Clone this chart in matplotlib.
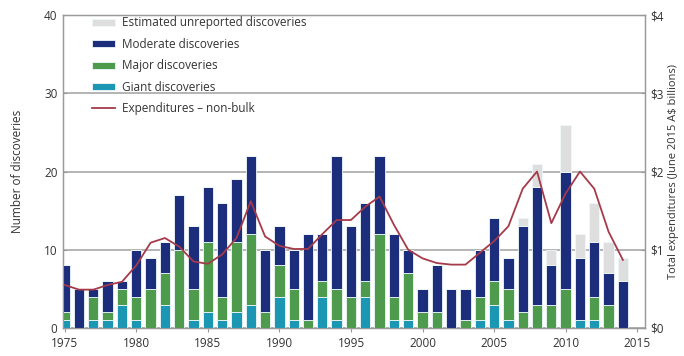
import matplotlib
matplotlib.use("Agg")
import matplotlib.pyplot as plt
import numpy as np

plt.rcParams['font.family'] = ['Open Sans', 'DejaVu Sans']

years = list(range(1975, 2015))

giant = [1, 0, 1, 1, 3, 1, 0, 3, 0, 1, 2, 1, 2, 3,
         0, 4, 1, 0, 4, 1, 0, 4, 0, 1, 1,
         0, 0, 0, 0, 1, 3, 1, 0, 0, 0, 0, 1, 1, 0, 0]
major = [1, 0, 3, 1, 2, 3, 5, 4, 10, 4, 9, 3, 9, 9,
         2, 4, 4, 1, 2, 4, 4, 2, 12, 3, 6,
         2, 2, 0, 1, 3, 3, 4, 2, 3, 3, 5, 0, 3, 3, 0]
moderate = [6, 5, 1, 4, 1, 6, 4, 4, 7, 8, 7, 12, 8, 10,
            8, 5, 5, 11, 6, 17, 9, 10, 10, 8, 3,
            3, 6, 5, 4, 6, 8, 4, 11, 15, 5, 15, 8, 7, 4, 6]
unreported = [0] * 32 + [1, 3, 2, 6, 3, 5, 4, 3]

expenditure = [0.55, 0.49, 0.49, 0.55, 0.59, 0.80, 1.09, 1.15, 1.04, 0.85,
               0.82, 0.94, 1.15, 1.62, 1.17, 1.05, 1.01, 1.01, 1.20, 1.38,
               1.38, 1.55, 1.68, 1.32, 1.00, 0.89, 0.83, 0.81, 0.81, 0.96,
               1.11, 1.30, 1.78, 2.00, 1.34, 1.72, 2.00, 1.78, 1.23, 0.87]

c_giant = "#1c97b3"
c_major = "#4f9b4d"
c_moderate = "#1b2d7b"
c_unrep = "#dedede"
c_line = "#a53a4a"
c_axis = "#9a9a9a"
c_text = "#333333"

fig = plt.figure(figsize=(6.84, 3.56), dpi=100)
ax = fig.add_axes([0.0921, 0.0787, 0.851, 0.879])

x = np.array(years)
g = np.array(giant)
mj = np.array(major)
md = np.array(moderate)
un = np.array(unreported)
w = 0.72
kw = dict(width=w, edgecolor="#eef8fa", linewidth=0.6, zorder=3)
ax.bar(x, g, color=c_giant, label="Giant discoveries", **kw)
ax.bar(x, mj, bottom=g, color=c_major, label="Major discoveries", **kw)
ax.bar(x, md, bottom=g + mj, color=c_moderate, label="Moderate discoveries", **kw)
ax.bar(x, un, bottom=g + mj + md, color=c_unrep,
       label="Estimated unreported discoveries", **kw)

ax.set_xlim(1974.88, 2015.55)
ax.set_ylim(0, 40)
ax.set_yticks([0, 10, 20, 30, 40])
ax.set_xticks(range(1975, 2016, 5))
ax.yaxis.grid(True, color="#a8a8a8", linewidth=1.2, zorder=0)
ax.set_axisbelow(True)
for s in ax.spines.values():
    s.set_color(c_axis)
    s.set_linewidth(1.0)
ax.tick_params(axis="both", colors=c_axis, labelcolor=c_text,
               labelsize=8.5, length=3)
ax.tick_params(axis="y", direction="in", pad=4)
ax.set_ylabel("Number of discoveries", fontsize=8.5, color=c_text, labelpad=14)

ax2 = ax.twinx()
ax2.set_ylim(0, 4)
ax2.set_yticks([0, 1, 2, 3, 4])
ax2.set_yticklabels(["$0", "$1", "$2", "$3", "$4"])
ax2.tick_params(axis="y", colors=c_axis, labelcolor=c_text,
                labelsize=8.5, length=3, direction="in", pad=4)
for s in ax2.spines.values():
    s.set_color(c_axis)
ax2.set_ylabel("Total expenditures (June 2015 A$ billions)", fontsize=8,
               color=c_text, labelpad=3)
line, = ax2.plot(x, expenditure, color=c_line, linewidth=1.3, zorder=5,
                 label="Expenditures \u2013 non-bulk")

handles, labels = ax.get_legend_handles_labels()
order = [3, 2, 1, 0]
leg = ax.legend([handles[i] for i in order] + [line],
                [labels[i] for i in order] + [line.get_label()],
                loc="upper left", bbox_to_anchor=(0.048, 1.0), frameon=False,
                fontsize=8.5, handlelength=1.9, handleheight=0.55,
                handletextpad=0.6, labelspacing=0.72, borderaxespad=0.0,
                borderpad=0.1)
for t in leg.get_texts():
    t.set_color(c_text)

fig.savefig("out.png", dpi=100)
